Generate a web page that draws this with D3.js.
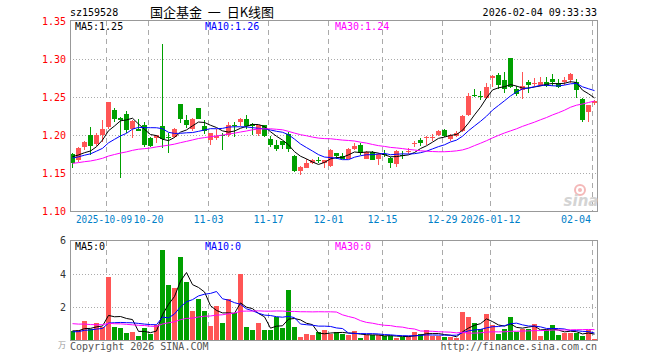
<!DOCTYPE html>
<html>
<head>
<meta charset="utf-8">
<script src="https://cdn.jsdelivr.net/npm/d3@7"></script>
<style>
  body { margin: 0; background: #fff; }
  svg { display: block; }
  text { font-family: "DejaVu Sans Mono", "Liberation Mono", monospace; font-size: 10px; }
</style>
</head>
<body>
<div id="chart"></div>
<script>
// trading days shown on the chart
const dates = [
  "2025-09-23", "2025-09-24", "2025-09-25", "2025-09-26", "2025-09-29", "2025-09-30",
  "2025-10-09", "2025-10-10", "2025-10-13", "2025-10-14", "2025-10-15", "2025-10-16", "2025-10-17",
  "2025-10-20", "2025-10-21", "2025-10-22", "2025-10-23", "2025-10-24",
  "2025-10-27", "2025-10-28", "2025-10-29", "2025-10-30", "2025-10-31",
  "2025-11-03", "2025-11-04", "2025-11-05", "2025-11-06", "2025-11-07",
  "2025-11-10", "2025-11-11", "2025-11-12", "2025-11-13", "2025-11-14",
  "2025-11-17", "2025-11-18", "2025-11-19", "2025-11-20", "2025-11-21",
  "2025-11-24", "2025-11-25", "2025-11-26", "2025-11-27", "2025-11-28",
  "2025-12-01", "2025-12-02", "2025-12-03", "2025-12-04", "2025-12-05",
  "2025-12-09", "2025-12-10", "2025-12-11", "2025-12-12",
  "2025-12-15", "2025-12-16", "2025-12-17", "2025-12-18", "2025-12-19",
  "2025-12-22", "2025-12-23", "2025-12-24", "2025-12-25", "2025-12-26",
  "2025-12-29", "2025-12-30", "2025-12-31",
  "2026-01-05", "2026-01-06", "2026-01-07", "2026-01-08", "2026-01-09",
  "2026-01-12", "2026-01-13", "2026-01-14", "2026-01-15", "2026-01-16",
  "2026-01-19", "2026-01-20", "2026-01-21", "2026-01-22", "2026-01-23",
  "2026-01-26", "2026-01-27", "2026-01-28", "2026-01-29", "2026-01-30",
  "2026-02-02", "2026-02-03", "2026-02-04"
];

const open = [
  1.176, 1.167, 1.184, 1.201, 1.188, 1.201, 1.211, 1.233, 1.223, 1.228,
  1.208, 1.208, 1.214, 1.196, 1.197, 1.212, 1.198, 1.198, 1.241, 1.220,
  1.208, 1.236, 1.212, 1.194, 1.197, 1.201, 1.200, 1.213, 1.2177, 1.2212,
  1.2142, 1.2023, 1.2138, 1.195, 1.1875, 1.1919, 1.2015, 1.1723, 1.1537, 1.157,
  1.1643, 1.168, 1.1635, 1.160, 1.1765, 1.173, 1.1687, 1.182, 1.1875, 1.1687,
  1.178, 1.1687, 1.1755, 1.170, 1.162, 1.1745, 1.179, 1.190, 1.194, 1.1965,
  1.197, 1.2005, 1.207, 1.195, 1.199, 1.205, 1.227, 1.2535, 1.251, 1.2487,
  1.275, 1.279, 1.273, 1.301, 1.2605, 1.259, 1.2695, 1.268, 1.2655, 1.2705,
  1.274, 1.2684, 1.2705, 1.2728, 1.2705, 1.2474, 1.2312, 1.2422
];
const high = [
  1.177, 1.185, 1.193, 1.211, 1.203, 1.220, 1.244, 1.236, 1.224, 1.232,
  1.220, 1.221, 1.218, 1.198, 1.201, 1.320, 1.203, 1.209, 1.241, 1.227,
  1.223, 1.236, 1.220, 1.203, 1.208, 1.203, 1.218, 1.218, 1.2225, 1.2269,
  1.216, 1.2133, 1.2138, 1.1985, 1.194, 1.1919, 1.2037, 1.1744, 1.160, 1.1687,
  1.1687, 1.172, 1.167, 1.182, 1.1765, 1.1765, 1.183, 1.1905, 1.1897, 1.179,
  1.180, 1.1766, 1.181, 1.172, 1.181, 1.179, 1.183, 1.193, 1.196, 1.199,
  1.202, 1.207, 1.208, 1.202, 1.205, 1.227, 1.255, 1.2605, 1.2575, 1.268,
  1.279, 1.282, 1.2837, 1.301, 1.265, 1.2837, 1.273, 1.275, 1.276, 1.277,
  1.2806, 1.274, 1.277, 1.2824, 1.2737, 1.2487, 1.240, 1.2466
];
const low = [
  1.157, 1.165, 1.181, 1.174, 1.186, 1.191, 1.208, 1.218, 1.144, 1.203,
  1.196, 1.205, 1.185, 1.185, 1.190, 1.183, 1.177, 1.197, 1.216, 1.209,
  1.205, 1.221, 1.202, 1.187, 1.194, 1.181, 1.198, 1.198, 1.2125, 1.2081,
  1.2006, 1.1997, 1.1976, 1.1845, 1.1788, 1.1819, 1.1775, 1.1512, 1.148, 1.157,
  1.1626, 1.163, 1.157, 1.159, 1.169, 1.1687, 1.1687, 1.181, 1.1744, 1.1687,
  1.167, 1.161, 1.172, 1.157, 1.158, 1.169, 1.176, 1.1845, 1.186, 1.1875,
  1.193, 1.199, 1.198, 1.193, 1.1975, 1.204, 1.2255, 1.250, 1.2465, 1.2475,
  1.264, 1.2605, 1.255, 1.262, 1.251, 1.2475, 1.2555, 1.265, 1.265, 1.264,
  1.265, 1.262, 1.2663, 1.268, 1.2487, 1.218, 1.218, 1.240
];
const close = [
  1.164, 1.183, 1.191, 1.186, 1.201, 1.208, 1.244, 1.222, 1.220, 1.207,
  1.219, 1.206, 1.187, 1.186, 1.200, 1.195, 1.197, 1.208, 1.221, 1.214,
  1.222, 1.222, 1.205, 1.203, 1.199, 1.200, 1.214, 1.212, 1.2212, 1.2116,
  1.2125, 1.2133, 1.1985, 1.1875, 1.1819, 1.1875, 1.1819, 1.1537, 1.1578, 1.1643,
  1.167, 1.166, 1.167, 1.181, 1.173, 1.1687, 1.182, 1.186, 1.1765, 1.1775,
  1.168, 1.175, 1.175, 1.1635, 1.179, 1.174, 1.180, 1.1905, 1.1895, 1.1972,
  1.1978, 1.205, 1.199, 1.2005, 1.203, 1.2255, 1.252, 1.253, 1.2505, 1.264,
  1.278, 1.266, 1.2605, 1.264, 1.2545, 1.265, 1.2655, 1.2685, 1.2705, 1.265,
  1.2705, 1.2635, 1.272, 1.2807, 1.2597, 1.2203, 1.240, 1.2444
];

// volume in 万手
const volume = [
  0.58, 0.62, 1.19, 0.67, 1.03, 0.83, 3.80, 0.79, 0.75, 0.44,
  0.50, 0.26, 0.77, 0.38, 0.93, 5.41, 3.35, 3.13, 4.99, 3.51,
  1.78, 2.50, 1.78, 0.87, 2.08, 1.05, 2.50, 1.63, 4.02, 0.79,
  0.62, 1.05, 0.62, 0.62, 1.39, 0.73, 3.05, 0.81, 0.20, 0.38,
  0.32, 0.50, 0.62, 0.42, 0.50, 0.38, 0.32, 0.56, 0.16, 0.32,
  0.32, 0.32, 0.26, 0.26, 0.16, 0.22, 0.26, 0.52, 0.42, 0.62,
  0.26, 0.26, 0.22, 0.22, 0.16, 1.74, 1.39, 1.05, 0.71, 1.59,
  0.93, 0.38, 0.71, 1.39, 0.52, 0.71, 0.71, 0.99, 0.26, 0.62,
  0.93, 0.32, 0.46, 0.46, 0.46, 0.26, 0.62, 0.10
];

// sessions before the visible window, only used to start the moving averages
const prevCloses = [
  1.152, 1.155, 1.158, 1.154, 1.150, 1.156, 1.160, 1.163, 1.161, 1.158,
  1.162, 1.165, 1.160, 1.157, 1.161, 1.164, 1.166, 1.162, 1.163, 1.167,
  1.165, 1.170, 1.168, 1.166, 1.171, 1.172, 1.176, 1.175, 1.173
];
const prevVolumes = [
  1.4, 1.1, 1.6, 1.3, 0.9, 1.2, 1.5, 1.0, 1.3, 1.4,
  1.1, 1.2, 1.6, 1.3, 1.0, 1.2, 1.4, 1.1, 1.3, 1.2,
  0.5, 0.4, 0.45, 0.5, 0.45, 0.6, 0.55, 0.6, 0.57
];

const priceTicks = [1.10, 1.15, 1.20, 1.25, 1.30, 1.35];
const volumeTicks = [2, 4, 6];
const dateTicks = ["2025-10-09", "2025-10-20", "2025-11-03", "2025-11-17", "2025-12-01",
  "2025-12-15", "2025-12-29", "2026-01-12", "2026-02-04"];
const dateTickLabels = ["2025-10-09", "10-20", "11-03", "11-17", "12-01",
  "12-15", "12-29", "2026-01-12", "02-04"];
const maPeriods = [5, 10, 30];
const maColors = ["#000000", "#0000ff", "#ff00ff"];
const priceLegend = ["MA5:1.25", "MA10:1.26", "MA30:1.24"];
const volumeLegend = ["MA5:0", "MA10:0", "MA30:0"];

const RED = "#ff5555";
const GREEN = "#00a000";
const GRID = "#aaaaaa";

const width = 660, height = 360;
const left = 70, right = 597;

const svg = d3.select("#chart").append("svg")
  .attr("width", width)
  .attr("height", height);

const x = d3.scaleBand().domain(dates).range([left, left + 6 * dates.length]).padding(0);
const y = d3.scaleLinear().domain([1.10, 1.35]).range([211.5, 21]);
const yv = d3.scaleLinear().domain([0, 6]).range([340.5, 240.5]);

const up = dates.map((d, i) => close[i] >= open[i]);

// moving average over the series, using earlier sessions for the start
function movingAverage(prev, vals, n) {
  const all = prev.concat(vals);
  return vals.map((v, i) => {
    const end = prev.length + i + 1;
    return d3.mean(all.slice(end - n, end));
  });
}

function drawPanel(scale, top, bottom, gridValues) {
  const g = svg.append("g");
  // horizontal dotted grid
  g.selectAll("line.h")
    .data(gridValues)
    .enter()
    .append("line")
    .attr("x1", left).attr("x2", right)
    .attr("y1", (d) => Math.round(scale(d)) + 0.5)
    .attr("y2", (d) => Math.round(scale(d)) + 0.5)
    .attr("stroke", GRID)
    .attr("stroke-dasharray", "1,2");
  // vertical dashed grid at the date ticks
  g.selectAll("line.v")
    .data(dateTicks)
    .enter()
    .append("line")
    .attr("x1", (d) => x(d) + 0.5).attr("x2", (d) => x(d) + 0.5)
    .attr("y1", top).attr("y2", bottom)
    .attr("stroke", GRID)
    .attr("stroke-dasharray", "5,4");
  return g;
}

// ---------- price panel ----------
drawPanel(y, 21, 211, [1.15, 1.20, 1.25, 1.30]);

const candles = svg.append("g").attr("shape-rendering", "crispEdges");
candles.selectAll("line")
  .data(dates)
  .enter()
  .append("line")
  .attr("x1", (d) => x(d) + 2.5).attr("x2", (d) => x(d) + 2.5)
  .attr("y1", (d, i) => y(high[i]))
  .attr("y2", (d, i) => y(low[i]))
  .attr("stroke", (d, i) => (up[i] ? RED : GREEN));
candles.selectAll("rect")
  .data(dates)
  .enter()
  .append("rect")
  .attr("x", (d) => x(d))
  .attr("width", 5)
  .attr("y", (d, i) => y(Math.max(open[i], close[i])))
  .attr("height", (d, i) => Math.max(1, Math.abs(y(open[i]) - y(close[i]))))
  .attr("fill", (d, i) => (up[i] ? RED : GREEN));

maPeriods.forEach((n, k) => {
  const ma = movingAverage(prevCloses, close, n);
  svg.append("path")
    .datum(ma)
    .attr("fill", "none")
    .attr("stroke", maColors[k])
    .attr("stroke-width", 1)
    .attr("d", d3.line().x((d, i) => x(dates[i]) + 2.5).y((d) => y(d)));
});

// price axis labels
svg.append("g")
  .attr("transform", "translate(66,0)")
  .call(d3.axisLeft(y).tickValues(priceTicks).tickSize(0).tickPadding(0).tickFormat(d3.format(".2f")))
  .call((g) => g.select(".domain").remove())
  .selectAll("text")
  .attr("fill", "#ff0000")
  .style("font-family", "DejaVu Sans Mono")
  .style("font-size", "10px");

// ---------- volume panel ----------
drawPanel(yv, 241, 340, [2, 4]);

svg.append("g")
  .attr("shape-rendering", "crispEdges")
  .selectAll("rect")
  .data(dates)
  .enter()
  .append("rect")
  .attr("x", (d) => x(d))
  .attr("width", 5)
  .attr("y", (d, i) => yv(volume[i]))
  .attr("height", (d, i) => yv(0) - yv(volume[i]))
  .attr("fill", (d, i) => (up[i] ? RED : GREEN));

maPeriods.forEach((n, k) => {
  const ma = movingAverage(prevVolumes, volume, n);
  svg.append("path")
    .datum(ma)
    .attr("fill", "none")
    .attr("stroke", maColors[k])
    .attr("stroke-width", 1)
    .attr("d", d3.line().x((d, i) => x(dates[i]) + 2.5).y((d) => yv(d)));
});

svg.append("g")
  .attr("transform", "translate(66,0)")
  .call(d3.axisLeft(yv).tickValues(volumeTicks).tickSize(0).tickPadding(0).tickFormat(d3.format("d")))
  .call((g) => g.select(".domain").remove())
  .selectAll("text")
  .attr("fill", "#333")
  .style("font-family", "DejaVu Sans Mono")
  .style("font-size", "10px");

svg.append("text")
  .attr("x", 66).attr("y", 348)
  .attr("text-anchor", "end")
  .attr("fill", "#999")
  .style("font-family", "Noto Sans CJK SC")
  .style("font-size", "8px")
  .text("万");

// frames
[[20.5, 211.5], [240.5, 340.5]].forEach(([t, b]) => {
  svg.append("rect")
    .attr("x", left + 0.5).attr("y", t)
    .attr("width", right - left).attr("height", b - t)
    .attr("fill", "none")
    .attr("stroke", "#999");
});

// date labels: first one squeezed so it just meets "10-20", last one kept inside the frame
const lastTick = dateTicks.length - 1;
svg.append("g")
  .selectAll("text")
  .data(dateTicks)
  .enter()
  .append("text")
  .attr("x", (d, i) => (i === 0 ? 76 : i === lastTick ? x(d) - 1 : x(d) + 0.5))
  .attr("y", 223)
  .attr("text-anchor", (d, i) => (i === 0 ? "start" : i === lastTick ? "end" : "middle"))
  .attr("textLength", (d, i) => (i === 0 ? 56 : null))
  .attr("lengthAdjust", "spacingAndGlyphs")
  .attr("fill", "#0080c8")
  .text((d, i) => dateTickLabels[i]);

// legends
const legendX = [75, 205, 335];
priceLegend.forEach((t, k) => {
  svg.append("text").attr("x", legendX[k]).attr("y", 30).attr("fill", maColors[k]).text(t);
});
volumeLegend.forEach((t, k) => {
  svg.append("text").attr("x", legendX[k]).attr("y", 250).attr("fill", maColors[k]).text(t);
});

// header
svg.append("text").attr("x", 70).attr("y", 16).attr("fill", "#000").text("sz159528");
svg.append("text")
  .attr("x", 150).attr("y", 17)
  .attr("fill", "#000")
  .style("font-family", "Noto Sans CJK SC")
  .style("font-size", "13px")
  .style("white-space", "pre")
  .text("国企基金  一  日K线图");
svg.append("text")
  .attr("x", 597).attr("y", 16)
  .attr("text-anchor", "end")
  .attr("fill", "#000")
  .text("2026-02-04 09:33:33");

// footer
svg.append("text").attr("x", 70).attr("y", 350).attr("fill", "#555").text("Copyright 2026 SINA.COM");
svg.append("text")
  .attr("x", 597).attr("y", 350)
  .attr("text-anchor", "end")
  .attr("fill", "#555")
  .text("http://finance.sina.com.cn");

// sina watermark
svg.append("circle").attr("cx", 580).attr("cy", 190).attr("r", 5)
  .attr("fill", "none").attr("stroke", "#f4b8b8").attr("stroke-width", 2);
svg.append("circle").attr("cx", 580).attr("cy", 190).attr("r", 2).attr("fill", "#f4b8b8");
svg.append("text")
  .attr("x", 581).attr("y", 206)
  .attr("text-anchor", "middle")
  .attr("fill", "#d4d4d4")
  .style("font-family", "DejaVu Sans")
  .style("font-size", "15px")
  .style("font-style", "italic")
  .style("font-weight", "bold")
  .text("sina");
</script>
</body>
</html>
